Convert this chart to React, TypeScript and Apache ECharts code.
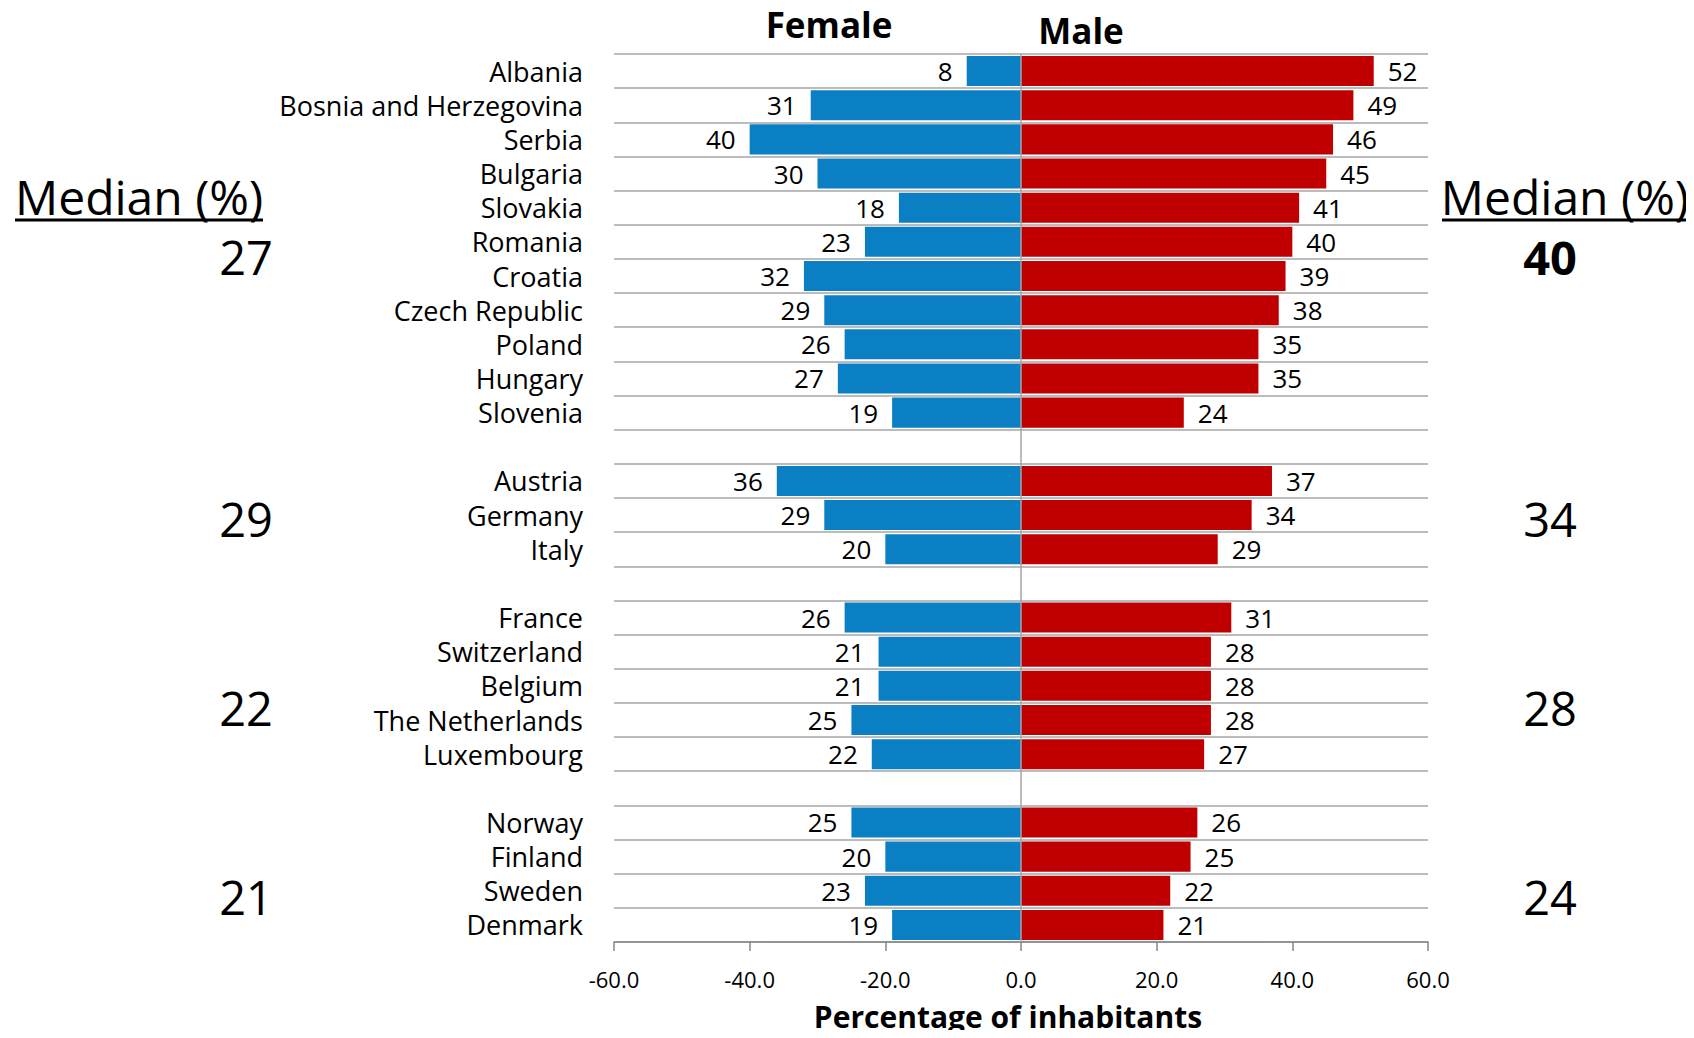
import React, { useEffect, useRef } from "react";
import * as echarts from "echarts";

// Country rows, top to bottom; empty strings are the spacer rows between regional groups
const countries = [
  "Albania", "Bosnia and Herzegovina", "Serbia", "Bulgaria", "Slovakia", "Romania",
  "Croatia", "Czech Republic", "Poland", "Hungary", "Slovenia", "",
  "Austria", "Germany", "Italy", "",
  "France", "Switzerland", "Belgium", "The Netherlands", "Luxembourg", "",
  "Norway", "Finland", "Sweden", "Denmark",
];

// Percentage of inhabitants (null on spacer rows)
const femaleValues = [
  8, 31, 40, 30, 18, 23, 32, 29, 26, 27, 19, null,
  36, 29, 20, null,
  26, 21, 21, 25, 22, null,
  25, 20, 23, 19,
];
const maleValues = [
  52, 49, 46, 45, 41, 40, 39, 38, 35, 35, 24, null,
  37, 34, 29, null,
  31, 28, 28, 28, 27, null,
  26, 25, 22, 21,
];

// Group medians, one per regional block
const femaleMedians = [27, 29, 22, 21];
const maleMedians = [40, 34, 28, 24];
const medianY = [257, 519, 708, 897];

const xTicks = { min: -60, max: 60, interval: 20 };

const FONT = "'Open Sans', 'Noto Sans', sans-serif";
const BLUE = "#0A7FC4";
const RED = "#C00000";

export default function App() {
  const ref = useRef<HTMLDivElement>(null);

  useEffect(() => {
    if (!ref.current) return;
    const chart = echarts.init(ref.current, undefined, { renderer: "svg" });

    const medianTexts: any[] = [];
    femaleMedians.forEach((v, i) => {
      medianTexts.push({
        type: "text",
        x: 273,
        y: medianY[i],
        style: {
          text: String(v),
          fontSize: 47,
          fontFamily: FONT,
          fill: "#000",
          align: "right",
          verticalAlign: "middle",
        },
      });
    });
    maleMedians.forEach((v, i) => {
      medianTexts.push({
        type: "text",
        x: 1550,
        y: medianY[i],
        style: {
          text: String(v),
          fontSize: 47,
          fontFamily: FONT,
          fontWeight: i === 0 ? "bold" : "normal",
          fill: "#000",
          align: "center",
          verticalAlign: "middle",
        },
      });
    });

    chart.setOption({
      animation: false,
      backgroundColor: "#fff",
      textStyle: { fontFamily: FONT },
      grid: { left: 614, right: 266, top: 54, bottom: 96 },
      xAxis: {
        type: "value",
        min: xTicks.min,
        max: xTicks.max,
        interval: xTicks.interval,
        axisLine: { show: true, lineStyle: { color: "#868686", width: 1.5 } },
        axisTick: { show: true, length: 9, lineStyle: { color: "#868686", width: 1.5 } },
        splitLine: { show: false },
        axisLabel: {
          color: "#000",
          fontSize: 22,
          margin: 26,
          formatter: (v: number) => v.toFixed(1),
        },
        name: "Percentage of inhabitants",
        nameLocation: "middle",
        nameGap: 59,
        nameTextStyle: { color: "#000", fontSize: 30, fontWeight: "bold", padding: [0, 26, 0, 0] },
      },
      yAxis: {
        type: "category",
        inverse: true,
        data: countries,
        axisLine: { show: false },
        axisTick: { show: false },
        splitLine: { show: true, interval: 0, lineStyle: { color: "#A6A6A6", width: 1.5 } },
        axisLabel: { color: "#000", fontSize: 27, margin: 31, interval: 0, lineHeight: 28 },
      },
      series: [
        {
          name: "Female",
          type: "bar",
          stack: "total",
          barCategoryGap: "12%",
          data: femaleValues.map((v) => (v == null ? "-" : -v)),
          itemStyle: { color: BLUE },
          label: {
            show: true,
            position: "left",
            distance: 14,
            color: "#000",
            fontSize: 26,
            formatter: (p: any) => String(Math.abs(p.value)),
          },
          markLine: {
            silent: true,
            symbol: "none",
            label: { show: false },
            lineStyle: { color: "#A6A6A6", width: 1.5, type: "solid" },
            data: [{ xAxis: 0 }],
          },
        },
        {
          name: "Male",
          type: "bar",
          stack: "total",
          barCategoryGap: "12%",
          data: maleValues.map((v) => (v == null ? "-" : v)),
          itemStyle: { color: RED },
          label: {
            show: true,
            position: "right",
            distance: 14,
            color: "#000",
            fontSize: 26,
          },
        },
      ],
      graphic: [
        {
          type: "text",
          x: 829,
          y: 24,
          style: { text: "Female", fontSize: 35, fontWeight: "bold", fontFamily: FONT, fill: "#000", align: "center", verticalAlign: "middle" },
        },
        {
          type: "text",
          x: 1081,
          y: 30,
          style: { text: "Male", fontSize: 35, fontWeight: "bold", fontFamily: FONT, fill: "#000", align: "center", verticalAlign: "middle" },
        },
        {
          type: "text",
          x: 15,
          y: 196,
          style: { text: "Median (%)", fontSize: 48, fontFamily: FONT, fill: "#000", align: "left", verticalAlign: "middle" },
        },
        { type: "line", shape: { x1: 15, y1: 220, x2: 263, y2: 220 }, style: { stroke: "#000", lineWidth: 3 } },
        {
          type: "text",
          x: 1689,
          y: 196,
          style: { text: "Median (%)", fontSize: 48, fontFamily: FONT, fill: "#000", align: "right", verticalAlign: "middle" },
        },
        { type: "line", shape: { x1: 1442, y1: 220, x2: 1689, y2: 220 }, style: { stroke: "#000", lineWidth: 3 } },
        ...medianTexts,
      ],
    });

    return () => chart.dispose();
  }, []);

  return <div ref={ref} style={{ width: 1694, height: 1038, margin: -8 }} />;
}
